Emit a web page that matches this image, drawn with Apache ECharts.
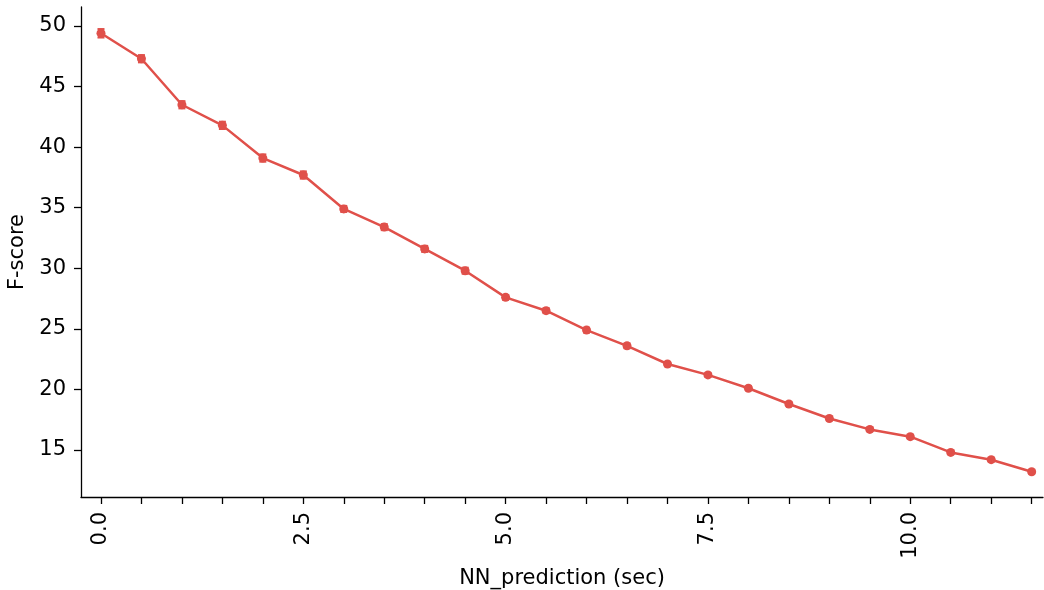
<!DOCTYPE html>
<html>
<head>
<meta charset="utf-8">
<script src="https://cdn.jsdelivr.net/npm/echarts@6/dist/echarts.min.js"></script>
<style>
  html, body { margin: 0; padding: 0; background: #fff; }
  #main { width: 1044px; height: 590px; }
</style>
</head>
<body>
<div id="main"></div>
<script>
// x positions (sec) and F-score values
var xs = [0, 0.5, 1, 1.5, 2, 2.5, 3, 3.5, 4, 4.5, 5, 5.5, 6, 6.5, 7, 7.5, 8, 8.5, 9, 9.5, 10, 10.5, 11, 11.5];
var fscore = [49.4, 47.3, 43.5, 41.8, 39.1, 37.7, 34.9, 33.4, 31.6, 29.8, 27.6, 26.5, 24.9, 23.6, 22.1, 21.2, 20.1, 18.8, 17.6, 16.7, 16.1, 14.8, 14.2, 13.2];
var errs = [0.35, 0.3, 0.3, 0.3, 0.3, 0.3, 0.25, 0.25, 0.25, 0.25, 0.2, 0.2, 0.2, 0.2, 0.15, 0.15, 0.15, 0.15, 0.15, 0.15, 0.15, 0.15, 0.15, 0.15];

var xTicks = [0, 0.5, 1, 1.5, 2, 2.5, 3, 3.5, 4, 4.5, 5, 5.5, 6, 6.5, 7, 7.5, 8, 8.5, 9, 9.5, 10, 10.5, 11, 11.5];
var xLabels = [0, 2.5, 5, 7.5, 10];
var yTicks = [15, 20, 25, 30, 35, 40, 45, 50];

var red = '#e0504a';
var font = 'DejaVu Sans';

var chart = echarts.init(document.getElementById('main'));

var lineData = xs.map(function (x, i) { return [x, fscore[i]]; });
var errData = xs.map(function (x, i) { return [x, fscore[i] - errs[i], fscore[i] + errs[i]]; });

chart.setOption({
    animation: false,
    grid: { left: 81, right: 1, top: 7, bottom: 93, containLabel: false, outerBoundsMode: 'none' },
    xAxis: {
        type: 'value',
        min: -0.247,
        max: 11.64,
        name: 'NN_prediction (sec)',
        nameLocation: 'middle',
        nameGap: 71,
        nameTextStyle: { color: '#000', fontSize: 21, fontFamily: font },
        axisLine: { show: true, onZero: false, lineStyle: { color: '#000', width: 1.3 } },
        axisTick: { show: true, customValues: xTicks, length: 7, lineStyle: { color: '#000', width: 1.3 } },
        axisLabel: {
            customValues: xLabels,
            rotate: 90,
            margin: 15,
            color: '#000',
            fontSize: 21,
            fontFamily: font,
            formatter: function (v) { return v.toFixed(1); }
        },
        splitLine: { show: false }
    },
    yAxis: {
        type: 'value',
        min: 11.12,
        max: 51.57,
        name: 'F-score',
        nameLocation: 'middle',
        nameGap: 51,
        nameTextStyle: { color: '#000', fontSize: 21, fontFamily: font },
        axisLine: { show: true, onZero: false, lineStyle: { color: '#000', width: 1.3 } },
        axisTick: { show: true, customValues: yTicks, length: 7, lineStyle: { color: '#000', width: 1.3 } },
        axisLabel: {
            customValues: yTicks,
            margin: 15,
            color: '#000',
            fontSize: 21,
            fontFamily: font
        },
        splitLine: { show: false }
    },
    series: [
        {
            type: 'line',
            data: lineData,
            symbol: 'circle',
            symbolSize: 9,
            lineStyle: { color: red, width: 2.5 },
            itemStyle: { color: red },
            z: 3
        },
        {
            type: 'custom',
            data: errData,
            z: 4,
            renderItem: function (params, api) {
                var x = api.value(0);
                var lo = api.coord([x, api.value(1)]);
                var hi = api.coord([x, api.value(2)]);
                var cap = 3.5;
                var st = { stroke: red, lineWidth: 2 };
                return {
                    type: 'group',
                    children: [
                        { type: 'line', shape: { x1: lo[0], y1: lo[1], x2: hi[0], y2: hi[1] }, style: st },
                        { type: 'line', shape: { x1: lo[0] - cap, y1: lo[1], x2: lo[0] + cap, y2: lo[1] }, style: st },
                        { type: 'line', shape: { x1: hi[0] - cap, y1: hi[1], x2: hi[0] + cap, y2: hi[1] }, style: st }
                    ]
                };
            }
        }
    ]
});
</script>
</body>
</html>
